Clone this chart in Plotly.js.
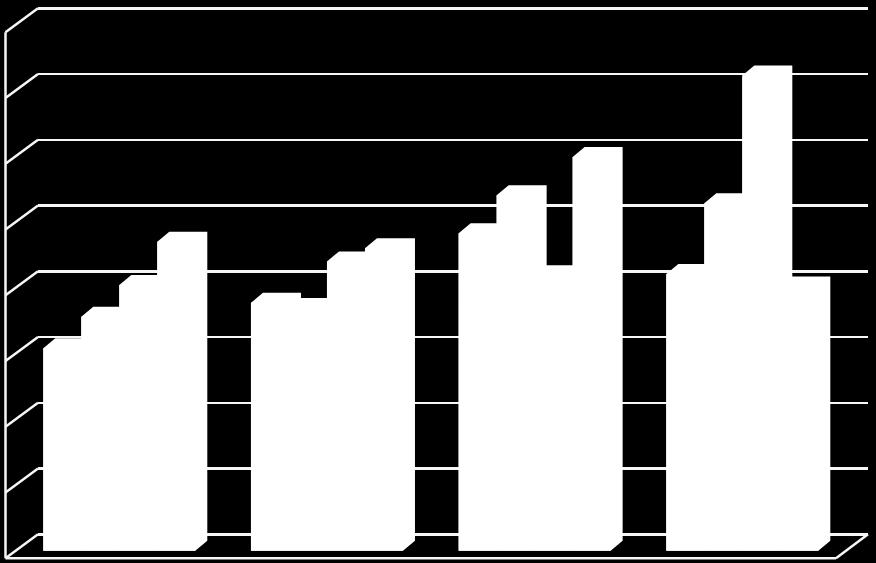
<!DOCTYPE html>
<html>
<head>
<meta charset="utf-8">
<script src="https://cdn.plot.ly/plotly-3.0.1.min.js"></script>
<style>html,body{margin:0;padding:0;background:#000;overflow:hidden}#chart{width:876px;height:563px}</style>
</head>
<body>
<div id="chart"></div>
<script>
// Data
const groups = [0, 1, 2, 3];
const series1 = [15.4, 18.85, 24.15, 21.05];
const series2 = [17.8, 18.45, 27.03, 26.43];
const series3 = [20.2, 22.0, 20.95, 36.13];
const series4 = [23.5, 23.0, 29.93, 20.1];
const gridValues = [0, 5, 10, 15, 20, 25, 30, 35, 40];

// Figure and projection settings
const W = 876, H = 563;
const pxPerUnit = 13.15, pxPerGroup = 207.67;
const depthX = 12 / pxPerGroup, depthY = 10 / pxPerUnit;
const barWidth = 38 / pxPerGroup;
const wallDepth = 24 / pxPerUnit;
const wallColor = '#f6f6f6', wallWidth = 2.5;
const allSeries = [series1, series2, series3, series4];

// Hexagonal outline of each extruded bar, from its value
const hx = [], hy = [];
allSeries.forEach((vals, s) => vals.forEach((v, g) => {
  const l = groups[g] + (s - 2) * barWidth, r = l + barWidth;
  hx.push(l, l, l + depthX, r + depthX, r + depthX, r, l, null);
  hy.push(0, v, v + depthY, v + depthY, depthY, 0, 0, null);
}));

const traces = [
  {x: gridValues.map(() => 0), y: gridValues, xaxis: 'x', yaxis: 'y', type: 'scatter',
   mode: 'markers', marker: {size: 1, opacity: 0}, hoverinfo: 'skip'},
  {x: hx, y: hy, xaxis: 'x2', yaxis: 'y2', type: 'scatter', mode: 'lines', fill: 'toself',
   fillcolor: '#fff', line: {width: 0, color: '#fff'}, hoverinfo: 'skip', connectgaps: false}
].concat(allSeries.map((vals, s) => ({
  x: groups, y: vals, xaxis: 'x2', yaxis: 'y2', type: 'bar', name: 'Series ' + (s + 1),
  marker: {color: '#fff', line: {width: 0}}
})));

const wallLine = (x0, y0, x1, y1) => ({
  type: 'line', xref: 'paper', yref: 'y', layer: 'below',
  x0: x0 / W, x1: x1 / W, y0: y0, y1: y1,
  line: {color: wallColor, width: wallWidth}
});
const shapes = gridValues.map(v => wallLine(5.5, v - wallDepth, 38, v));
shapes.push(wallLine(5.5, gridValues[0] - wallDepth, 5.5, gridValues[gridValues.length - 1] - wallDepth));
shapes.push(wallLine(5.5, gridValues[0] - wallDepth, 836, gridValues[0] - wallDepth));
shapes.push(wallLine(836, gridValues[0] - wallDepth, 868, gridValues[0]));

const hiddenAxis = {showgrid: false, zeroline: false, showline: false, showticklabels: false, ticks: '', fixedrange: true};
const layout = {
  width: W, height: H,
  margin: {l: 0, r: 0, t: 0, b: 0},
  paper_bgcolor: '#000', plot_bgcolor: 'rgba(0,0,0,0)',
  showlegend: false,
  barmode: 'group', bargap: 0.268, bargroupgap: 0,
  shapes: shapes,
  xaxis: Object.assign({}, hiddenAxis, {domain: [38 / W, 868 / W], range: [0, 1], anchor: 'y'}),
  yaxis: {domain: [0, 1], range: [-(H - 534.3) / pxPerUnit, 534.3 / pxPerUnit], anchor: 'x',
    tickmode: 'array', tickvals: gridValues, showticklabels: false, ticks: '',
    showgrid: true, gridcolor: wallColor, gridwidth: wallWidth, zeroline: false, showline: false, fixedrange: true},
  xaxis2: Object.assign({}, hiddenAxis, {domain: [0, 1], anchor: 'y2', type: 'linear',
    range: [-119.3 / pxPerGroup, (W - 119.3) / pxPerGroup]}),
  yaxis2: Object.assign({}, hiddenAxis, {domain: [0, 1], anchor: 'x2',
    range: [-(H - 550.7) / pxPerUnit, 550.7 / pxPerUnit]})
};
Plotly.newPlot('chart', traces, layout, {displayModeBar: false, staticPlot: true});
</script>
</body>
</html>
